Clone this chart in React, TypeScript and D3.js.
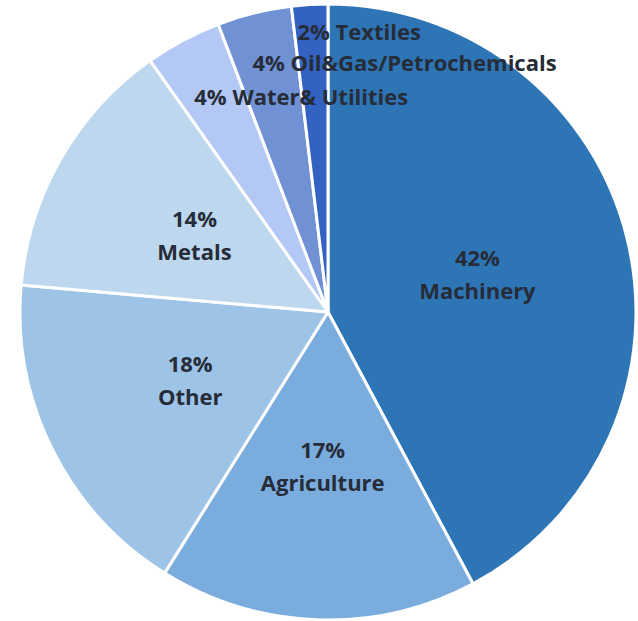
import { useRef, useEffect } from 'react'
import * as d3 from 'd3'

const WIDTH = 638
const HEIGHT = 621
const CX = 328
const CY = 312
const RADIUS = 308

const CATEGORIES = ['Machinery', 'Agriculture', 'Other', 'Metals', 'Water& Utilities', 'Oil&Gas/Petrochemicals', 'Textiles']
const VALUES = [42.2, 16.7, 17.5, 13.8, 4.0, 3.9, 1.9]
const PCT_LABELS = ['42%', '17%', '18%', '14%', '4%', '4%', '2%']
const COLORS = ['#2E75B6', '#7AADDE', '#9DC3E6', '#BDD7EE', '#B4C8F6', '#7092D4', '#3462C2']

// label placement: fraction of radius for centroid, two-line or inline
const LABEL_R = [0.5, 0.5, 0.5, 0.5, 0.75, 0.82, 0.9]
const INLINE_DX = [0, 0, 0, 0, -25, -15, -14]
const INLINE_DY = [0, 0, 0, 0, -11, -4, -3]

export default function App() {
  const svgRef = useRef<SVGSVGElement>(null)

  useEffect(() => {
    if (!svgRef.current) return
    const el = d3.select(svgRef.current)
    el.selectAll('*').remove()

    const g = el.append('g').attr('transform', `translate(${CX},${CY})`)

    const pie = d3.pie<number>().sort(null).value((d) => d)
    const arcs = pie(VALUES)
    const arc = d3.arc<d3.PieArcDatum<number>>().innerRadius(0).outerRadius(RADIUS)

    g.selectAll('path.slice')
      .data(arcs)
      .join('path')
      .attr('class', 'slice')
      .attr('d', arc)
      .attr('fill', (_, i) => COLORS[i])
      .attr('stroke', '#fff')
      .attr('stroke-width', 3)
      .attr('stroke-linejoin', 'round')

    const textColor = '#262C38'
    arcs.forEach((a, i) => {
      const r = RADIUS * LABEL_R[i]
      const la = d3.arc<d3.PieArcDatum<number>>().innerRadius(r).outerRadius(r)
      const [lx, ly] = la.centroid(a)
      const t = g.append('text')
        .attr('font-family', '"Open Sans", sans-serif')
        .attr('font-weight', 700)
        .attr('font-size', '22px')
        .attr('fill', textColor)
      if (i < 4) {
        t.attr('text-anchor', 'middle')
        t.append('tspan').attr('x', lx).attr('y', ly - 16).attr('dy', '0.35em').text(PCT_LABELS[i])
        t.append('tspan').attr('x', lx).attr('y', ly + 17).attr('dy', '0.35em').text(CATEGORIES[i])
      } else {
        t.attr('text-anchor', 'start')
          .attr('x', lx + INLINE_DX[i])
          .attr('y', ly + INLINE_DY[i])
          .attr('dy', '0.35em')
          .text(`${PCT_LABELS[i]} ${CATEGORIES[i]}`)
      }
    })
  }, [])

  return (
    <svg
      ref={svgRef}
      width={WIDTH}
      height={HEIGHT}
      style={{ position: 'absolute', left: 0, top: 0, background: '#fff' }}
    />
  )
}
